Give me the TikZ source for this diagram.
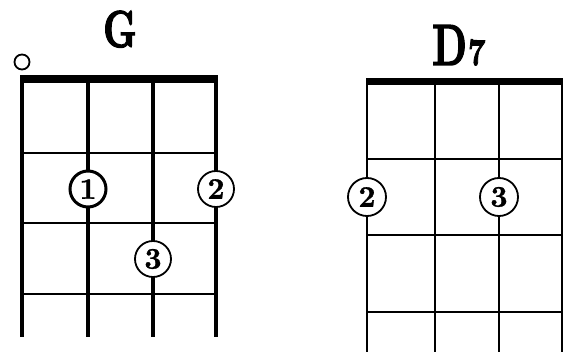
\documentclass[tikz,border=0pt]{standalone}
\usepackage{fontspec}
\newfontfamily\heavyfont[FakeBold=2.5]{lmroman10-bold.otf}
\newfontfamily\digitfont[FakeBold=0.8]{lmroman10-bold.otf}
\begin{document}
\begin{tikzpicture}[x=1pt,y=-1pt,
  gstr/.style={line width=3.6pt},
  dstr/.style={line width=2pt},
  gfret/.style={line width=2.8pt},
  dfret/.style={line width=2.6pt},
  finger/.style={circle,draw,fill=white,line width=1.8pt,minimum size=36pt,inner sep=0pt,font=\fontsize{30}{30}\digitfont},
  chordname/.style={inner sep=0pt,font=\fontsize{52}{52}\heavyfont}]
\useasboundingbox (0,0) rectangle (574,358);
% ---- G chart ----
\node[chordname,xscale=0.72,anchor=base] (gname) at (120,47) {G};
\node[circle,draw,line width=1.8pt,minimum size=15pt,inner sep=0pt] (open) at (22,62) {};
\foreach \i/\x in {1/22,2/88,3/153,4/216}{
  \coordinate (gt\i) at (\x,78);
  \coordinate (gb\i) at (\x,337);
  \draw[gstr] (gt\i) -- (gb\i);
}
\coordinate (gnl) at (20.2,79); \coordinate (gnr) at (217.8,79);
\draw[line width=7.5pt] (gnl) -- (gnr);
\foreach \j/\y in {1/153,2/223,3/294}{
  \coordinate (gfl\j) at (22,\y); \coordinate (gfr\j) at (216,\y);
  \draw[gfret] (gfl\j) -- (gfr\j);
}
\node[finger,line width=3pt] (g1) at (88,189) {1};
\node[finger] (g2) at (216,189) {2};
\node[finger] (g3) at (153,259) {3};
% ---- D7 chart ----
\node[inner sep=0pt,anchor=base west] (dname) at (432,65) {\fontsize{58}{58}\heavyfont\scalebox{0.68}[1]{D}\hspace{1pt}\fontsize{38}{38}\heavyfont\scalebox{0.8}[1]{7}};
\foreach \i/\x in {1/367,2/435,3/499,4/562}{
  \coordinate (dt\i) at (\x,81);
  \coordinate (db\i) at (\x,352);
  \draw[dstr] (dt\i) -- (db\i);
}
\coordinate (dnl) at (366,81.5); \coordinate (dnr) at (563,81.5);
\draw[line width=6.5pt] (dnl) -- (dnr);
\foreach \j/\y in {1/159,2/235,3/312}{
  \coordinate (dfl\j) at (367,\y); \coordinate (dfr\j) at (562,\y);
  \draw[dfret] (dfl\j) -- (dfr\j);
}
\node[finger,minimum size=38pt] (d2) at (367,197) {2};
\node[finger,minimum size=38pt] (d3) at (499,197) {3};
\end{tikzpicture}
\end{document}
